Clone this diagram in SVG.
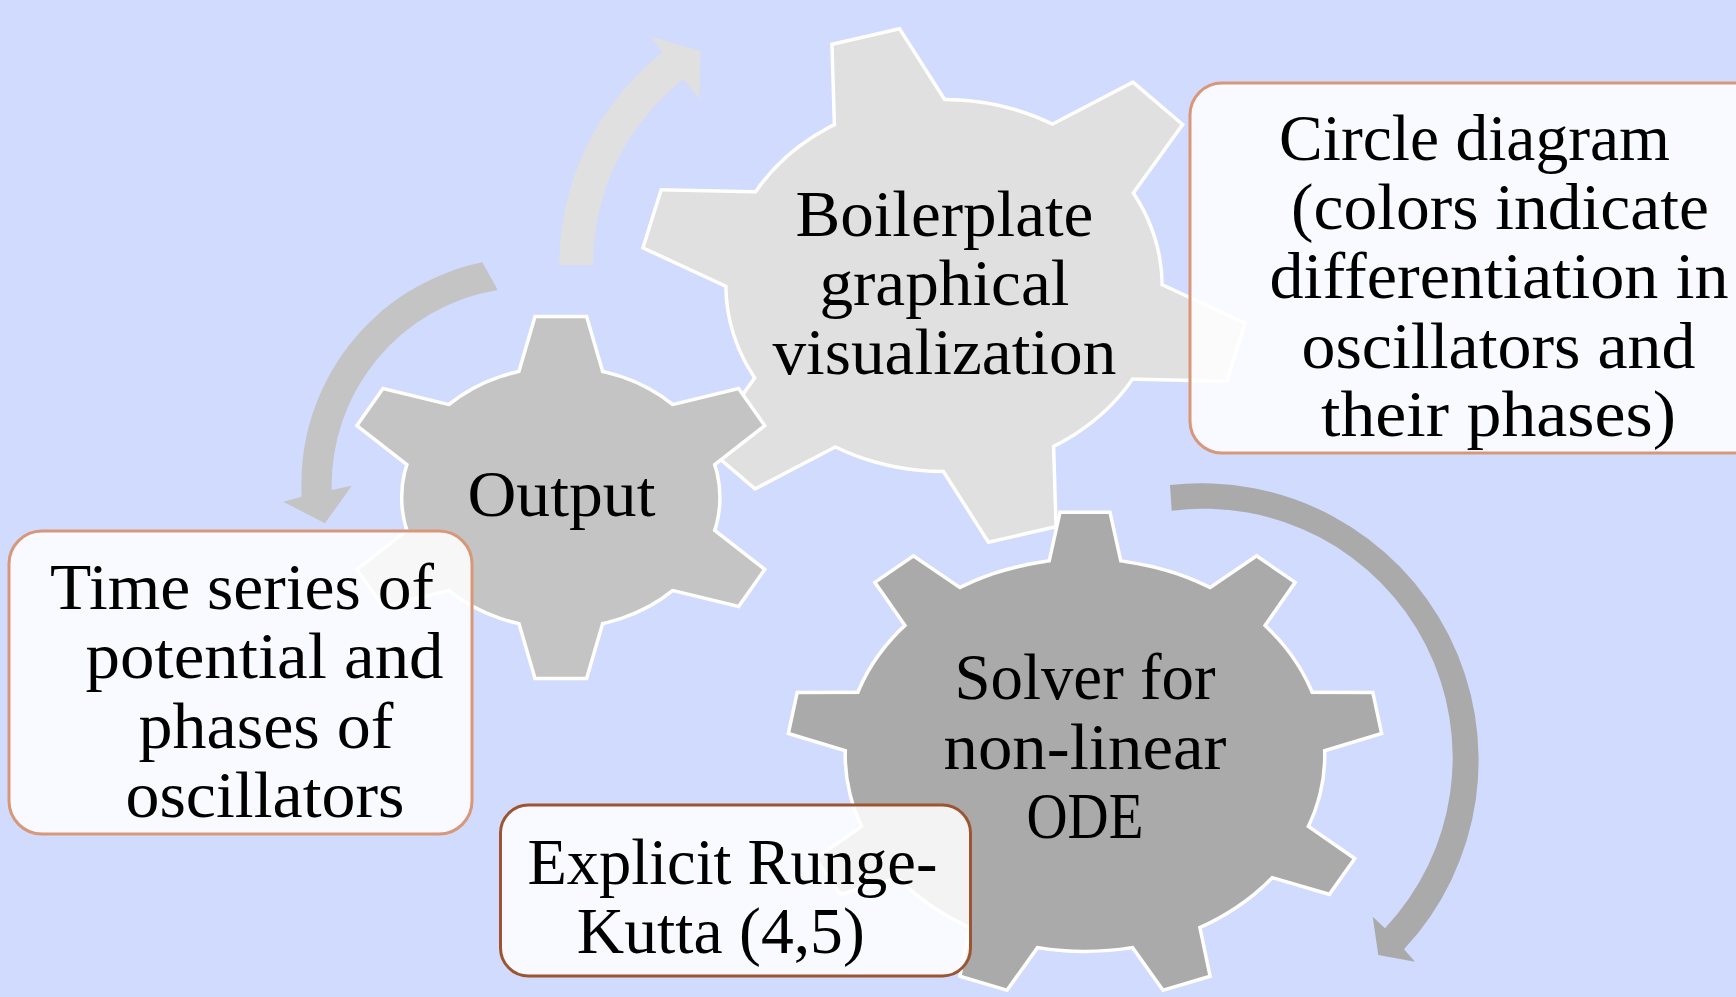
<svg xmlns="http://www.w3.org/2000/svg" width="1736" height="997" viewBox="0 0 1736 997">
  <style>
    .label { font-family: "Liberation Serif", "Times New Roman", serif; font-size: 66px; fill: #000; text-anchor: middle; }
    .box { fill: #ffffff; fill-opacity: 0.86; stroke-width: 3; }
    .box-light { stroke: #d9977a; }
    .box-dark { stroke: #9c5530; }
    .rim { stroke: #ffffff; stroke-width: 7; stroke-linejoin: miter; }
  </style>
  <defs>
    <!-- gear parts in unit space (outer tooth radius = 1) -->
    <circle id="body6" r="0.72" vector-effect="non-scaling-stroke"/>
    <polygon id="tooth6" points="-0.112,-1 0.112,-1 0.196,-0.65 -0.196,-0.65" vector-effect="non-scaling-stroke"/>
    <circle id="body9" r="0.807" vector-effect="non-scaling-stroke"/>
    <polygon id="tooth9" points="-0.08,-1 0.08,-1 0.1254,-0.75 -0.1254,-0.75" vector-effect="non-scaling-stroke"/>
    <g id="gear6">
      <use href="#body6"/>
      <use href="#tooth6"/>
      <use href="#tooth6" transform="rotate(60)"/>
      <use href="#tooth6" transform="rotate(120)"/>
      <use href="#tooth6" transform="rotate(180)"/>
      <use href="#tooth6" transform="rotate(240)"/>
      <use href="#tooth6" transform="rotate(300)"/>
    </g>
    <g id="gear9">
      <use href="#body9"/>
      <use href="#tooth9"/>
      <use href="#tooth9" transform="rotate(40)"/>
      <use href="#tooth9" transform="rotate(80)"/>
      <use href="#tooth9" transform="rotate(120)"/>
      <use href="#tooth9" transform="rotate(160)"/>
      <use href="#tooth9" transform="rotate(200)"/>
      <use href="#tooth9" transform="rotate(240)"/>
      <use href="#tooth9" transform="rotate(280)"/>
      <use href="#tooth9" transform="rotate(320)"/>
    </g>
  </defs>

  <rect width="1736" height="997" fill="#d1dbfd"/>

  <!-- circular arrows -->
  <g id="connectors">
    <path id="arrow-top" fill="#e0e0e0"
      d="M559.3,265 A270,270 0 0 1 662.6,52.2 L650.5,36.5 L700.5,51 L699.5,99.5 L683.5,79 A236,236 0 0 0 593,265 Z"/>
    <path id="arrow-left" fill="#c4c4c4"
      d="M482.3,262.3 A226.6,226.6 0 0 0 301.7,496.7 L283.3,501.7 L325,523.3 L351.7,485.7 L331.7,490 A198,198 0 0 1 497.7,290 Z"/>
    <path id="arrow-right" fill="#aaaaaa"
      d="M1170,485 A277,277 0 0 1 1404,949.3 L1415,961.7 L1378.3,955 L1372.7,916.7 L1385,928.3 A249,249 0 0 0 1171.7,510.7 Z"/>
  </g>

  <!-- gear: Boilerplate graphical visualization -->
  <g id="node-boilerplate">
    <g transform="translate(944,285.5) scale(300.5,256) rotate(-15)">
      <use href="#gear6" class="rim" fill="#e0e0e0"/>
      <use href="#gear6" fill="#e0e0e0"/>
    </g>
    <text class="label" x="944.4" y="235.5" textLength="298" lengthAdjust="spacingAndGlyphs">Boilerplate</text>
    <text class="label" x="944.4" y="304.7" textLength="250" lengthAdjust="spacingAndGlyphs">graphical</text>
    <text class="label" x="944.4" y="373.9" textLength="344" lengthAdjust="spacingAndGlyphs">visualization</text>
  </g>

  <!-- gear: Solver for non-linear ODE -->
  <g id="node-solver">
    <g transform="translate(1085,755.1) scale(295,241.1)">
      <use href="#gear9" class="rim" fill="#aaaaaa"/>
      <use href="#gear9" fill="#aaaaaa"/>
    </g>
    <text class="label" x="1085" y="698.5" textLength="261" lengthAdjust="spacingAndGlyphs">Solver for</text>
    <text class="label" x="1085" y="768.5" textLength="283" lengthAdjust="spacingAndGlyphs">non-linear</text>
    <text class="label" x="1085" y="838" textLength="117" lengthAdjust="spacingAndGlyphs">ODE</text>
  </g>

  <!-- gear: Output -->
  <g id="node-output">
    <g transform="translate(560.8,497.5) scale(218.6,179.2)">
      <use href="#gear6" class="rim" fill="#c4c4c4"/>
      <use href="#gear6" fill="#c4c4c4"/>
    </g>
    <text class="label" x="561.5" y="516" textLength="188" lengthAdjust="spacingAndGlyphs">Output</text>
  </g>

  <!-- callout boxes -->
  <g id="note-circle">
    <rect class="box box-light" x="1190" y="83" width="580" height="370" rx="32"/>
    <text class="label" x="1474.5" y="160" textLength="391" lengthAdjust="spacingAndGlyphs">Circle diagram</text>
    <text class="label" x="1500" y="228.6" textLength="418" lengthAdjust="spacingAndGlyphs">(colors indicate</text>
    <text class="label" x="1499" y="298.2" textLength="459" lengthAdjust="spacingAndGlyphs">differentiation in</text>
    <text class="label" x="1498.5" y="367.9" textLength="394" lengthAdjust="spacingAndGlyphs">oscillators and</text>
    <text class="label" x="1498.5" y="436.4" textLength="355" lengthAdjust="spacingAndGlyphs">their phases)</text>
  </g>

  <g id="note-timeseries">
    <rect class="box box-light" x="9" y="531" width="463" height="303" rx="33"/>
    <text class="label" x="242" y="608.5" textLength="384" lengthAdjust="spacingAndGlyphs">Time series of</text>
    <text class="label" x="264.6" y="678" textLength="358" lengthAdjust="spacingAndGlyphs">potential and</text>
    <text class="label" x="266" y="747.5" textLength="255" lengthAdjust="spacingAndGlyphs">phases of</text>
    <text class="label" x="265" y="817" textLength="279" lengthAdjust="spacingAndGlyphs">oscillators</text>
  </g>

  <g id="note-rk">
    <rect class="box box-dark" x="500.5" y="805" width="470" height="171" rx="28"/>
    <text class="label" x="732.4" y="884" textLength="410" lengthAdjust="spacingAndGlyphs">Explicit Runge-</text>
    <text class="label" x="720.8" y="953" textLength="288" lengthAdjust="spacingAndGlyphs">Kutta (4,5)</text>
  </g>
</svg>
